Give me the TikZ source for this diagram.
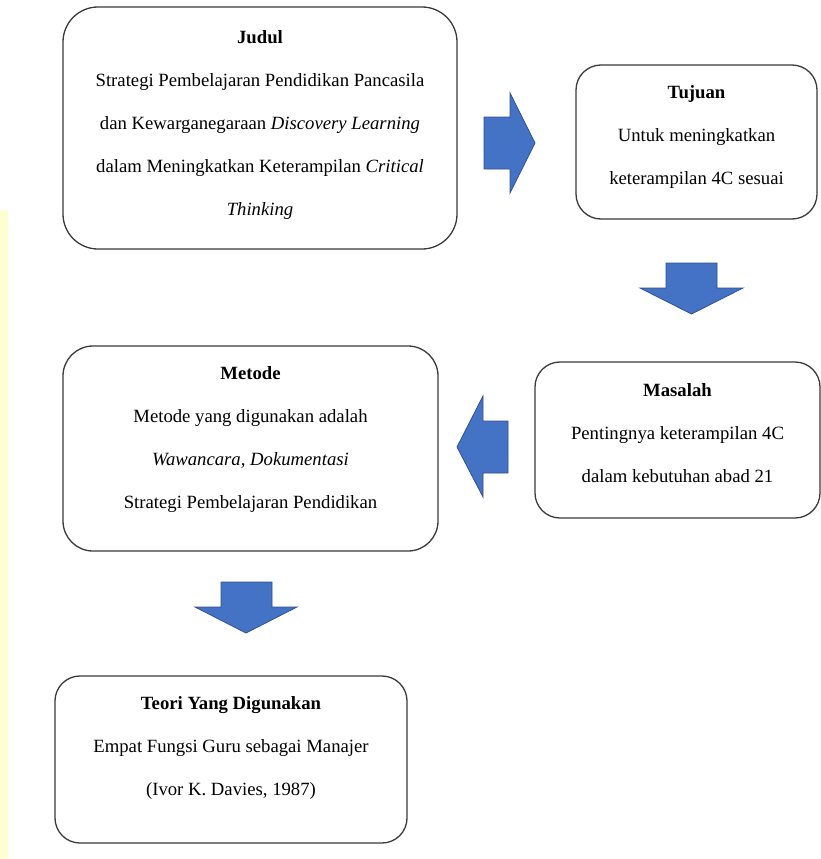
\documentclass[tikz,border=0pt]{standalone}
\usepackage{fontspec}
\setmainfont{Liberation Serif}
\definecolor{arrowfill}{HTML}{4472C4}
\definecolor{arrowline}{HTML}{2F528F}
\definecolor{boxline}{HTML}{3A3A3A}
\definecolor{stripcol}{HTML}{FFFDD2}
\tikzset{
  box/.style={draw=boxline, line width=1.3pt, fill=white, inner sep=0pt},
  txt/.style={align=center, inner sep=0pt, font=\fontsize{18.7}{43}\selectfont},
  blockarrow/.style={fill=arrowfill, draw=arrowline, line width=0.8pt, line join=miter}
}
\begin{document}
\begin{tikzpicture}[x=1pt,y=-1pt]
\useasboundingbox[fill=white] (0,0) rectangle (821,859);
\fill[stripcol] (0,210) rectangle (8,859);

% boxes
\node[box, rounded corners=35pt, minimum width=394pt, minimum height=242pt] (judul) at (260,128) {};
\node[box, rounded corners=25pt, minimum width=241pt, minimum height=154pt] (tujuan) at (696.5,142) {};
\node[box, rounded corners=25pt, minimum width=285pt, minimum height=156pt] (masalah) at (677.5,440) {};
\node[box, rounded corners=30pt, minimum width=375pt, minimum height=205pt] (metode) at (250.5,448.5) {};
\node[box, rounded corners=25pt, minimum width=352pt, minimum height=167pt] (teori) at (231,759.5) {};

% texts
\node[txt] (judulT) at (260,125) {\textbf{Judul}\\
Strategi Pembelajaran Pendidikan Pancasila\\
dan Kewarganegaraan \textit{Discovery Learning}\\
dalam Meningkatkan Keterampilan \textit{Critical}\\
\textit{Thinking}};
\node[txt] (tujuanT) at (696.5,137) {\textbf{Tujuan}\\
Untuk meningkatkan\\
keterampilan 4C sesuai};
\node[txt] (masalahT) at (677.5,433) {\textbf{Masalah}\\
Pentingnya keterampilan 4C\\
dalam kebutuhan abad 21};
\node[txt] (metodeT) at (250.5,440) {\textbf{Metode}\\
Metode yang digunakan adalah\\
\textit{Wawancara, Dokumentasi}\\
Strategi Pembelajaran Pendidikan};
\node[txt] (teoriT) at (231,748) {\textbf{Teori Yang Digunakan}\\
Empat Fungsi Guru sebagai Manajer\\
(Ivor K. Davies, 1987)};

% block arrows
\draw[blockarrow] (484,117) -- (510,117) -- (510,93) -- (535,143) -- (510,193) -- (510,169) -- (484,169) -- cycle;
\draw[blockarrow] (666,263) -- (717,263) -- (717,288) -- (743,288) -- (691.5,314) -- (640,288) -- (666,288) -- cycle;
\draw[blockarrow] (508,421) -- (483,421) -- (483,396) -- (457,447) -- (483,497) -- (483,473) -- (508,473) -- cycle;
\draw[blockarrow] (221,582) -- (272,582) -- (272,607) -- (297,607) -- (246,633) -- (195,607) -- (221,607) -- cycle;
\end{tikzpicture}
\end{document}
